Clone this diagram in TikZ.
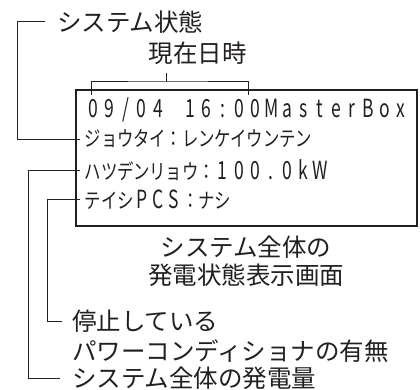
\documentclass[tikz,border=0pt]{standalone}
\usepackage{fontspec}
\usepackage{graphicx}
\setmainfont{Noto Sans CJK JP}
\definecolor{ink}{RGB}{35,31,32}
\newlength\lcdpitch
\setlength\lcdpitch{16.2pt}
% kana cell and latin cell
\newcommand\kc[1]{\makebox[\lcdpitch]{\fontsize{21}{21}\selectfont\scalebox{0.78}[1]{#1}}}
\newcommand\ac[1]{\makebox[\lcdpitch]{\fontsize{25}{25}\selectfont\scalebox{0.7}[1]{#1}}}
\begin{document}
\begin{tikzpicture}[x=1pt,y=-1pt]
\tikzset{
  lbl/.style={inner sep=0pt, outer sep=0pt, font=\fontsize{24.5}{28}\selectfont, text=ink},
  lcdrow/.style={inner sep=0pt, outer sep=0pt, anchor=base west, text=ink},
  conn/.style={draw=ink, line width=1pt},
  screen/.style={draw=ink, line width=1.8pt, inner sep=0pt, outer sep=0pt}
}
\useasboundingbox[fill=white] (0,0) rectangle (420,390);
% labels
\node[lbl, anchor=west] (sys) at (57,22) {システム状態};
\node[lbl] (dt) at (197.5,53) {現在日時};

% screen
\node[screen, minimum width=341pt, minimum height=136pt, anchor=north west] (box) at (76,90) {};
\node[lcdrow] (r1) at (85,118) {\ac{0}\ac{9}\ac{/}\ac{0}\ac{4}\ac{}\ac{1}\ac{6}\ac{:}\ac{0}\ac{0}\ac{M}\ac{a}\ac{s}\ac{t}\ac{e}\ac{r}\ac{B}\ac{o}\ac{x}};
\node[lcdrow] (r2) at (85,147) {\kc{ジ}\kc{ョ}\kc{ウ}\kc{タ}\kc{イ}\kc{：}\kc{レ}\kc{ン}\kc{ケ}\kc{イ}\kc{ウ}\kc{ン}\kc{テ}\kc{ン}};
\node[lcdrow] (r3) at (85,180) {\kc{ハ}\kc{ツ}\kc{デ}\kc{ン}\kc{リ}\kc{ョ}\kc{ウ}\kc{：}\ac{1}\ac{0}\ac{0}\ac{.}\ac{0}\ac{k}\ac{W}};
\node[lcdrow] (r4) at (85,208) {\kc{テ}\kc{イ}\kc{シ}\ac{P}\ac{C}\ac{S}\kc{：}\kc{ナ}\kc{シ}};

\node[lbl, align=center] (cap) at (246,261.5) {システム全体の\\発電状態表示画面};
\node[lbl, anchor=west] (pcs1) at (72,321) {停止している};
\node[lbl, anchor=west] (pcs2) at (72,351) {パワーコンディショナの有無};
\node[lbl, anchor=west] (gen) at (72,378) {システム全体の発電量};

% date bracket
\coordinate (stemtop) at (166,73);
\coordinate (bh) at (166,82);
\coordinate (bl) at (91,95);
\coordinate (br) at (248,95);
\draw[conn] (stemtop) -- (bh);
\draw[conn] (bl) |- (bh) -| (br);

% connectors
\draw[conn] ([xshift=-12pt]sys.west) -- ++(-28,0) |- ([xshift=4pt]box.west |- r2.west);
\draw[conn] ([xshift=4pt]box.west |- r3.west) -| ([xshift=-44pt]gen.west) -- ([xshift=-12pt]gen.west);
\draw[conn] ([xshift=4pt]box.west |- r4.west) -| ([xshift=-25pt]pcs1.west) -- ([xshift=-10pt]pcs1.west);
\end{tikzpicture}
\end{document}
